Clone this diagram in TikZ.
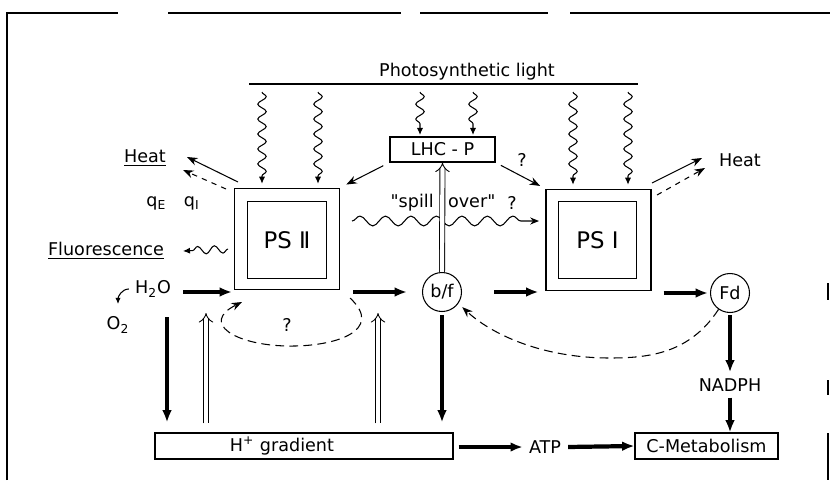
\documentclass[tikz,border=0pt]{standalone}
\usepackage{fontspec}
\setmainfont{DejaVu Sans}
\usetikzlibrary{arrows.meta, decorations.pathmorphing}

\begin{document}
\begin{tikzpicture}[
  font=\fontsize{10}{12}\selectfont,
  psbox/.style={draw, line width=0.6pt, minimum width=2.1cm,
                minimum height=2.03cm, inner sep=0pt},
  psin/.style={draw, line width=0.5pt, minimum width=1.57cm,
               minimum height=1.55cm, inner sep=0pt,
               font=\fontsize{13}{15}\selectfont},
  blk/.style={draw, line width=0.6pt, minimum height=0.52cm, inner sep=2pt},
  carrier/.style={draw, circle, line width=0.6pt, minimum size=0.78cm,
                  inner sep=0pt},
  flow/.style={-{Latex[length=7pt, width=5.5pt]}, line width=2.4pt},
  pump/.style={double, double distance=2.4pt, line width=0.5pt, -Implies},
  light/.style={-{Latex[length=4pt, width=3.5pt]}, line width=0.6pt, decorate,
                decoration={snake, amplitude=2.4pt, segment length=8.5pt,
                            post length=4pt}},
  fluor/.style={-{Latex[length=4pt, width=3.5pt]}, line width=0.6pt, decorate,
                decoration={snake, amplitude=2.2pt, segment length=9.5pt,
                            post length=3pt}},
  spillw/.style={-{Stealth[length=5pt, width=4pt]}, line width=0.6pt, decorate,
                 decoration={snake, amplitude=2.8pt, segment length=14.5pt,
                             post length=5pt}},
  arr/.style={-{Stealth[length=6pt, width=4.5pt]}, line width=0.6pt},
  dsh/.style={dash pattern=on 5pt off 3pt, line width=0.6pt},
  frm/.style={line width=0.7pt},
]
\useasboundingbox (0,0) rectangle (16.6,10.06);

% ---- frame (scanned, broken) -----------------------------------------------
\draw[frm] (0.14,0.46) -- (0.14,9.80) -- (2.36,9.80);
\draw[frm] (3.36,9.80) -- (8.02,9.80);
\draw[frm] (8.40,9.80) -- (10.96,9.80);
\draw[frm] (11.40,9.80) -- (16.6,9.80);
\draw[frm] (16.56,4.40) -- (16.56,4.06);
\draw[frm] (16.56,2.46) -- (16.56,2.16);
\draw[frm] (16.56,1.40) -- (16.56,0.46);

% ---- Photosynthetic light --------------------------------------------------
\node (title) at (9.34, 8.62) {Photosynthetic light};
\coordinate (lightL) at (4.98, 8.38);
\coordinate (lightR) at (12.76, 8.38);
\draw[line width=0.6pt] (lightL) -- (lightR);

\foreach \n/\x in {1/5.24, 2/6.36, 3/8.40, 4/9.46, 5/11.46, 6/12.56}
  \coordinate (src\n) at (\x, 8.22);

% ---- Photosystems and LHC-P ------------------------------------------------
\node[psbox] (psii) at (5.74, 5.28) {};
\node[psin] (psiiin) at (5.74, 5.26) {PS Ⅱ};

\node[psbox] (psi) at (11.97, 5.26) {};
\node[psin] (psiin) at (11.95, 5.26) {PS Ⅰ};

\node[blk, minimum width=2.1cm, minimum height=0.5cm] (lhc)
  at (8.85, 7.07) {LHC - P};

\draw[light, shorten >=0.08cm] (src1) -- (src1 |- psii.north);
\draw[light, shorten >=0.08cm] (src2) -- (src2 |- psii.north);
\draw[light, shorten >=0.03cm] (src3) -- (src3 |- lhc.north);
\draw[light, shorten >=0.03cm] (src4) -- (src4 |- lhc.north);
\draw[light, shorten >=0.08cm] (src5) -- (src5 |- psi.north);
\draw[light, shorten >=0.08cm] (src6) -- (src6 |- psi.north);

\draw[arr, shorten <=0.14cm, shorten >=0.14cm] (lhc.south west) -- (psii.north east);
\draw[arr, shorten <=0.12cm, shorten >=0.12cm] (lhc.south east) -- (psi.north west);
\node (lhcq) at (10.44, 6.86) {?};

% ---- Heat, quenching, fluorescence -----------------------------------------
\node (heatL) at (2.90, 6.90) {\underline{Heat}};
\node (heatR) at (14.80, 6.86) {Heat};
\node (quench) at (3.46, 6.00) {q\textsubscript{E}\quad q\textsubscript{I}};

\coordinate (hl1) at (4.76, 6.42);  \coordinate (hlt1) at (3.74, 6.92);
\coordinate (hl2) at (4.52, 6.28);  \coordinate (hlt2) at (3.66, 6.66);
\coordinate (hr1) at (13.04, 6.40); \coordinate (hrt1) at (14.04, 6.90);
\coordinate (hr2) at (13.14, 6.16); \coordinate (hrt2) at (14.10, 6.70);
\draw[arr] (hl1) -- (hlt1);
\draw[arr, dashed] (hl2) -- (hlt2);
\draw[arr] (hr1) -- (hrt1);
\draw[arr, dashed] (hr2) -- (hrt2);

\node (fluo) at (2.12, 5.04) {\underline{Fluorescence}};
\coordinate (flS) at (4.56, 5.08);
\coordinate (flE) at (3.66, 5.04);
\draw[fluor] (flS) -- (flE);

% ---- spill over ------------------------------------------------------------
\node (spill) at (8.86, 6.00)
  {\textquotedbl spill \hspace{0.5em}over\textquotedbl};
\node (spillq) at (10.24, 6.00) {?};
\coordinate (spS) at (7.04, 5.64);
\coordinate (spE) at (10.78, 5.64);
\draw[spillw] (spS) -- (spE);

% ---- electron transport ----------------------------------------------------
\node (h2o) at (3.06, 4.28) {H\textsubscript{2}O};
\node (o2) at (2.36, 3.56) {O\textsubscript{2}};
\coordinate (o2hook) at (2.36, 3.98);
\draw[-{Latex[length=3.5pt, width=3pt]}, line width=0.6pt]
  (h2o.west) to[out=180, in=90] (o2hook);

\node[carrier] (bf) at (8.84, 4.22) {b/f};
\node[carrier] (fd) at (14.60, 4.20) {Fd};

\draw[flow, shorten <=0.12cm, shorten >=0.04cm] (h2o.east |- bf) -- (psii.south west |- bf);
\draw[flow, shorten <=0.26cm, shorten >=0.3cm] (psii.south east |- bf) -- (bf.west);
\draw[flow, shorten <=0.64cm, shorten >=0.14cm] (bf.east) -- (psi.south west |- bf);
\draw[flow, shorten <=0.24cm, shorten >=0.04cm] (psi.south east |- fd) -- (fd.west);

\draw[pump] (bf.north) -- (lhc.south);

% ---- cyclic / feedback paths ----------------------------------------------
\coordinate (loopS) at (7.00, 4.10);
\coordinate (loopE) at (4.84, 4.02);
\draw[dsh, -{Stealth[length=6pt, width=4.5pt]}]
  (loopS) .. controls (7.7,3.45) and (6.7,3.12) .. (5.74,3.14)
  .. controls (4.7,3.16) and (4.0,3.6) .. (loopE);
\node (loopq) at (5.74, 3.56) {?};

\draw[dsh, -{Stealth[length=6pt, width=4.5pt]}, shorten >=3pt]
  (fd.-125) .. controls (13.8,3.0) and (13.0,2.9) .. (12.2,2.9)
  .. controls (10.8,2.9) and (9.8,3.4) .. (bf.-35);

% ---- H+ gradient, ATP, C-metabolism ---------------------------------------
\node[blk, minimum width=5.96cm,
      label={[xshift=-0.44cm]center:H\textsuperscript{+} gradient}] (hgrad)
  at (6.08, 1.14) {};
\node (atp) at (10.90, 1.12) {ATP};
\node[blk, minimum width=2.86cm] (cmet) at (14.13, 1.14) {C-Metabolism};
\node (nadph) at (14.60, 2.36) {NADPH};

\coordinate (h2odown) at (3.34, 3.72);
\draw[flow, shorten >=0.2cm] (h2odown) -- (h2odown |- hgrad.north);
\draw[flow, shorten <=0.06cm, shorten >=0.2cm] (bf.south) -- (bf.south |- hgrad.north);
\draw[flow, shorten <=0.04cm] (fd.south) -- (nadph.north);
\draw[flow] (nadph.south) -- (nadph.south |- cmet.north);

\coordinate (pumpA) at (4.12, 3.80);
\coordinate (pumpB) at (7.56, 3.80);
\draw[pump, shorten <=0.18cm] (pumpA |- hgrad.north) -- (pumpA);
\draw[pump, shorten <=0.18cm] (pumpB |- hgrad.north) -- (pumpB);

\draw[flow, shorten <=0.1cm] (hgrad.east |- atp) -- (atp.west);
\draw[flow, shorten <=0.02cm] (atp.east) -- (cmet.west);

\end{tikzpicture}
\end{document}
